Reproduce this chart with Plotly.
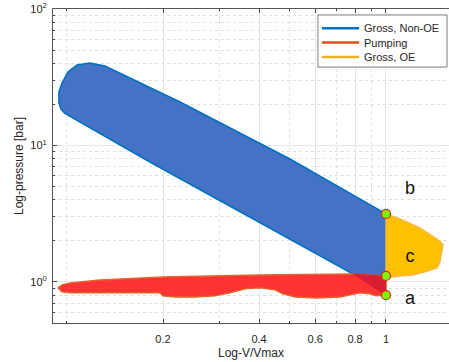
import numpy as np
import plotly.graph_objects as go

# Work-loop regions on log-log axes (x: V/Vmax, y: pressure in bar)
# Gross work, non-OE part, traced from state b along the compression edge
gross_x = [1.0, 0.5, 0.2261, 0.1693, 0.1466, 0.1315, 0.118, 0.1075, 0.1007,
           0.0965, 0.0944, 0.0944, 0.0958, 0.0985, 0.182, 0.788, 1.0, 1.0]
gross_y = [3.15, 7.96, 20.8, 28.7, 33.97, 38.2, 40.2, 38.9, 34.5,
           28.7, 24.66, 20.5, 18.5, 17.2, 7.57, 1.145, 1.106, 3.15]

# Pumping loop (intake / exhaust strokes)
pump_x = [0.0937, 0.0965, 0.1022, 0.1269, 0.2, 0.4027, 0.788, 1.0, 1.0,
          0.9304, 0.8908, 0.829, 0.7175, 0.6075, 0.5186, 0.4754, 0.4487,
          0.4027, 0.3614, 0.3243, 0.291, 0.252, 0.2182, 0.2, 0.1956, 0.1914,
          0.1269, 0.1022, 0.0965, 0.0937]
pump_y = [0.904, 0.951, 0.983, 1.034, 1.088, 1.125, 1.145, 1.106, 0.80,
          0.79, 0.817, 0.831, 0.776, 0.763, 0.776, 0.817, 0.874,
          0.904, 0.889, 0.831, 0.79, 0.776, 0.776, 0.79, 0.831, 0.831,
          0.831, 0.831, 0.845, 0.904]

# Overlap of the gross loop with the pumping loop near BDC
overlap_x = [0.788, 1.0, 1.0, 0.788]
overlap_y = [1.145, 1.106, 0.80, 1.145]

# Gross work, over-expansion part beyond V/Vmax = 1
oe_x = [1.0, 1.106, 1.278, 1.394, 1.476, 1.509, 1.498, 1.476, 1.445,
        1.325, 1.215, 1.106, 1.0, 1.0]
oe_y = [3.15, 2.894, 2.487, 2.173, 1.997, 1.866, 1.659, 1.401, 1.266,
        1.184, 1.125, 1.106, 1.07, 3.15]

# State points at V/Vmax = 1 and their labels
state_names = ["a", "c", "b"]
state_x = [1.0, 1.0, 1.0]
state_y = [0.80, 1.106, 3.15]
label_x = [1.19, 1.19, 1.19]
label_y = [0.738, 1.5, 4.72]

legend_names = ["Gross, Non-OE", "Pumping", "Gross, OE"]
legend_colors = ["#0072BD", "#D95319", "#EDB120"]

x_ticks = [0.2, 0.4, 0.6, 0.8, 1]
x_minor = [0.1, 0.3, 0.5, 0.7, 0.9]
y_ticks = [1, 10, 100]
y_ticktext = ["10<sup>0</sup>", "10<sup>1</sup>", "10<sup>2</sup>"]
y_minor = [0.5, 0.6, 0.7, 0.8, 0.9, 2, 3, 4, 5, 6, 7, 8, 9,
           20, 30, 40, 50, 60, 70, 80, 90]
x_lim = [0.0904, 1.576]
y_lim = [0.5, 100]

FONT = "Liberation Sans, Arial, sans-serif"

fig = go.Figure()

fig.add_trace(go.Scatter(x=gross_x, y=gross_y, mode="lines", fill="toself",
                         fillcolor="#4472C4", line=dict(color="#0070C0", width=1.6),
                         showlegend=False, hoverinfo="skip"))
fig.add_trace(go.Scatter(x=pump_x, y=pump_y, mode="lines", fill="toself",
                         fillcolor="#FF3333", line=dict(color="#E0662A", width=1.4),
                         showlegend=False, hoverinfo="skip"))
fig.add_trace(go.Scatter(x=overlap_x, y=overlap_y, mode="lines", fill="toself",
                         fillcolor="#DA1E32", line=dict(color="#DA1E32", width=0.5),
                         showlegend=False, hoverinfo="skip"))
fig.add_trace(go.Scatter(x=oe_x, y=oe_y, mode="lines", fill="toself",
                         fillcolor="#FFC000", line=dict(color="#F6B94A", width=1.4),
                         showlegend=False, hoverinfo="skip"))

fig.add_trace(go.Scatter(x=state_x, y=state_y, mode="markers",
                         marker=dict(size=9, color="#7CFC00",
                                     line=dict(color="#E02020", width=1.2)),
                         showlegend=False, hoverinfo="skip"))
fig.add_trace(go.Scatter(x=label_x, y=label_y, mode="text", text=state_names,
                         textfont=dict(size=18, color="#111111", family=FONT),
                         showlegend=False, hoverinfo="skip"))

# Compact boxed legend in the upper-right corner (paper coordinates)
box_x0, box_x1, box_y0, box_y1 = 0.669, 0.995, 0.815, 0.981
row_y = [0.939, 0.893, 0.847]
fig.add_shape(type="rect", xref="paper", yref="paper",
              x0=box_x0, x1=box_x1, y0=box_y0, y1=box_y1,
              line=dict(color="#7a7a7a", width=1), fillcolor="white", layer="above")
for name, col, ry in zip(legend_names, legend_colors, row_y):
    fig.add_shape(type="line", xref="paper", yref="paper",
                  x0=0.679, x1=0.773, y0=ry, y1=ry,
                  line=dict(color=col, width=2.5), layer="above")
    fig.add_annotation(xref="paper", yref="paper", x=0.780, y=ry,
                       xanchor="left", yanchor="middle", text=name, showarrow=False,
                       font=dict(family=FONT, size=11, color="#262626"))

axis_font = dict(family=FONT, size=11, color="#262626")

fig.update_layout(
    width=449, height=362,
    margin=dict(l=53, r=0, t=9, b=39),
    paper_bgcolor="white", plot_bgcolor="white",
    font=axis_font,
    showlegend=False,
    xaxis=dict(type="log", range=list(np.log10(x_lim)),
               tickmode="array", tickvals=x_ticks,
               ticktext=[str(v) for v in x_ticks],
               ticks="inside", ticklen=4, tickcolor="#444",
               ticklabelstandoff=6,
               showline=True, linecolor="#555", linewidth=1, mirror="ticks",
               showgrid=True, gridcolor="#E6E6E6", gridwidth=1,
               minor=dict(tickmode="array", tickvals=x_minor, ticks="inside",
                          ticklen=2, tickcolor="#444", showgrid=True,
                          gridcolor="#DEDEDE", griddash="dot", gridwidth=1),
               zeroline=False,
               title=dict(text="Log-V/Vmax", standoff=4,
                          font=dict(size=12, color="#262626")),
               tickfont=axis_font),
    yaxis=dict(type="log", range=list(np.log10(y_lim)),
               tickmode="array", tickvals=y_ticks, ticktext=y_ticktext,
               ticks="inside", ticklen=4, tickcolor="#444",
               ticklabelstandoff=3,
               showline=True, linecolor="#555", linewidth=1, mirror=False,
               showgrid=True, gridcolor="#E6E6E6", gridwidth=1,
               minor=dict(tickmode="array", tickvals=y_minor, ticks="inside",
                          ticklen=2, tickcolor="#444", showgrid=True,
                          gridcolor="#DEDEDE", griddash="dot", gridwidth=1),
               zeroline=False,
               title=dict(text="Log-pressure [bar]", standoff=4,
                          font=dict(size=12, color="#262626")),
               tickfont=axis_font),
)

fig.write_html("out.html")
